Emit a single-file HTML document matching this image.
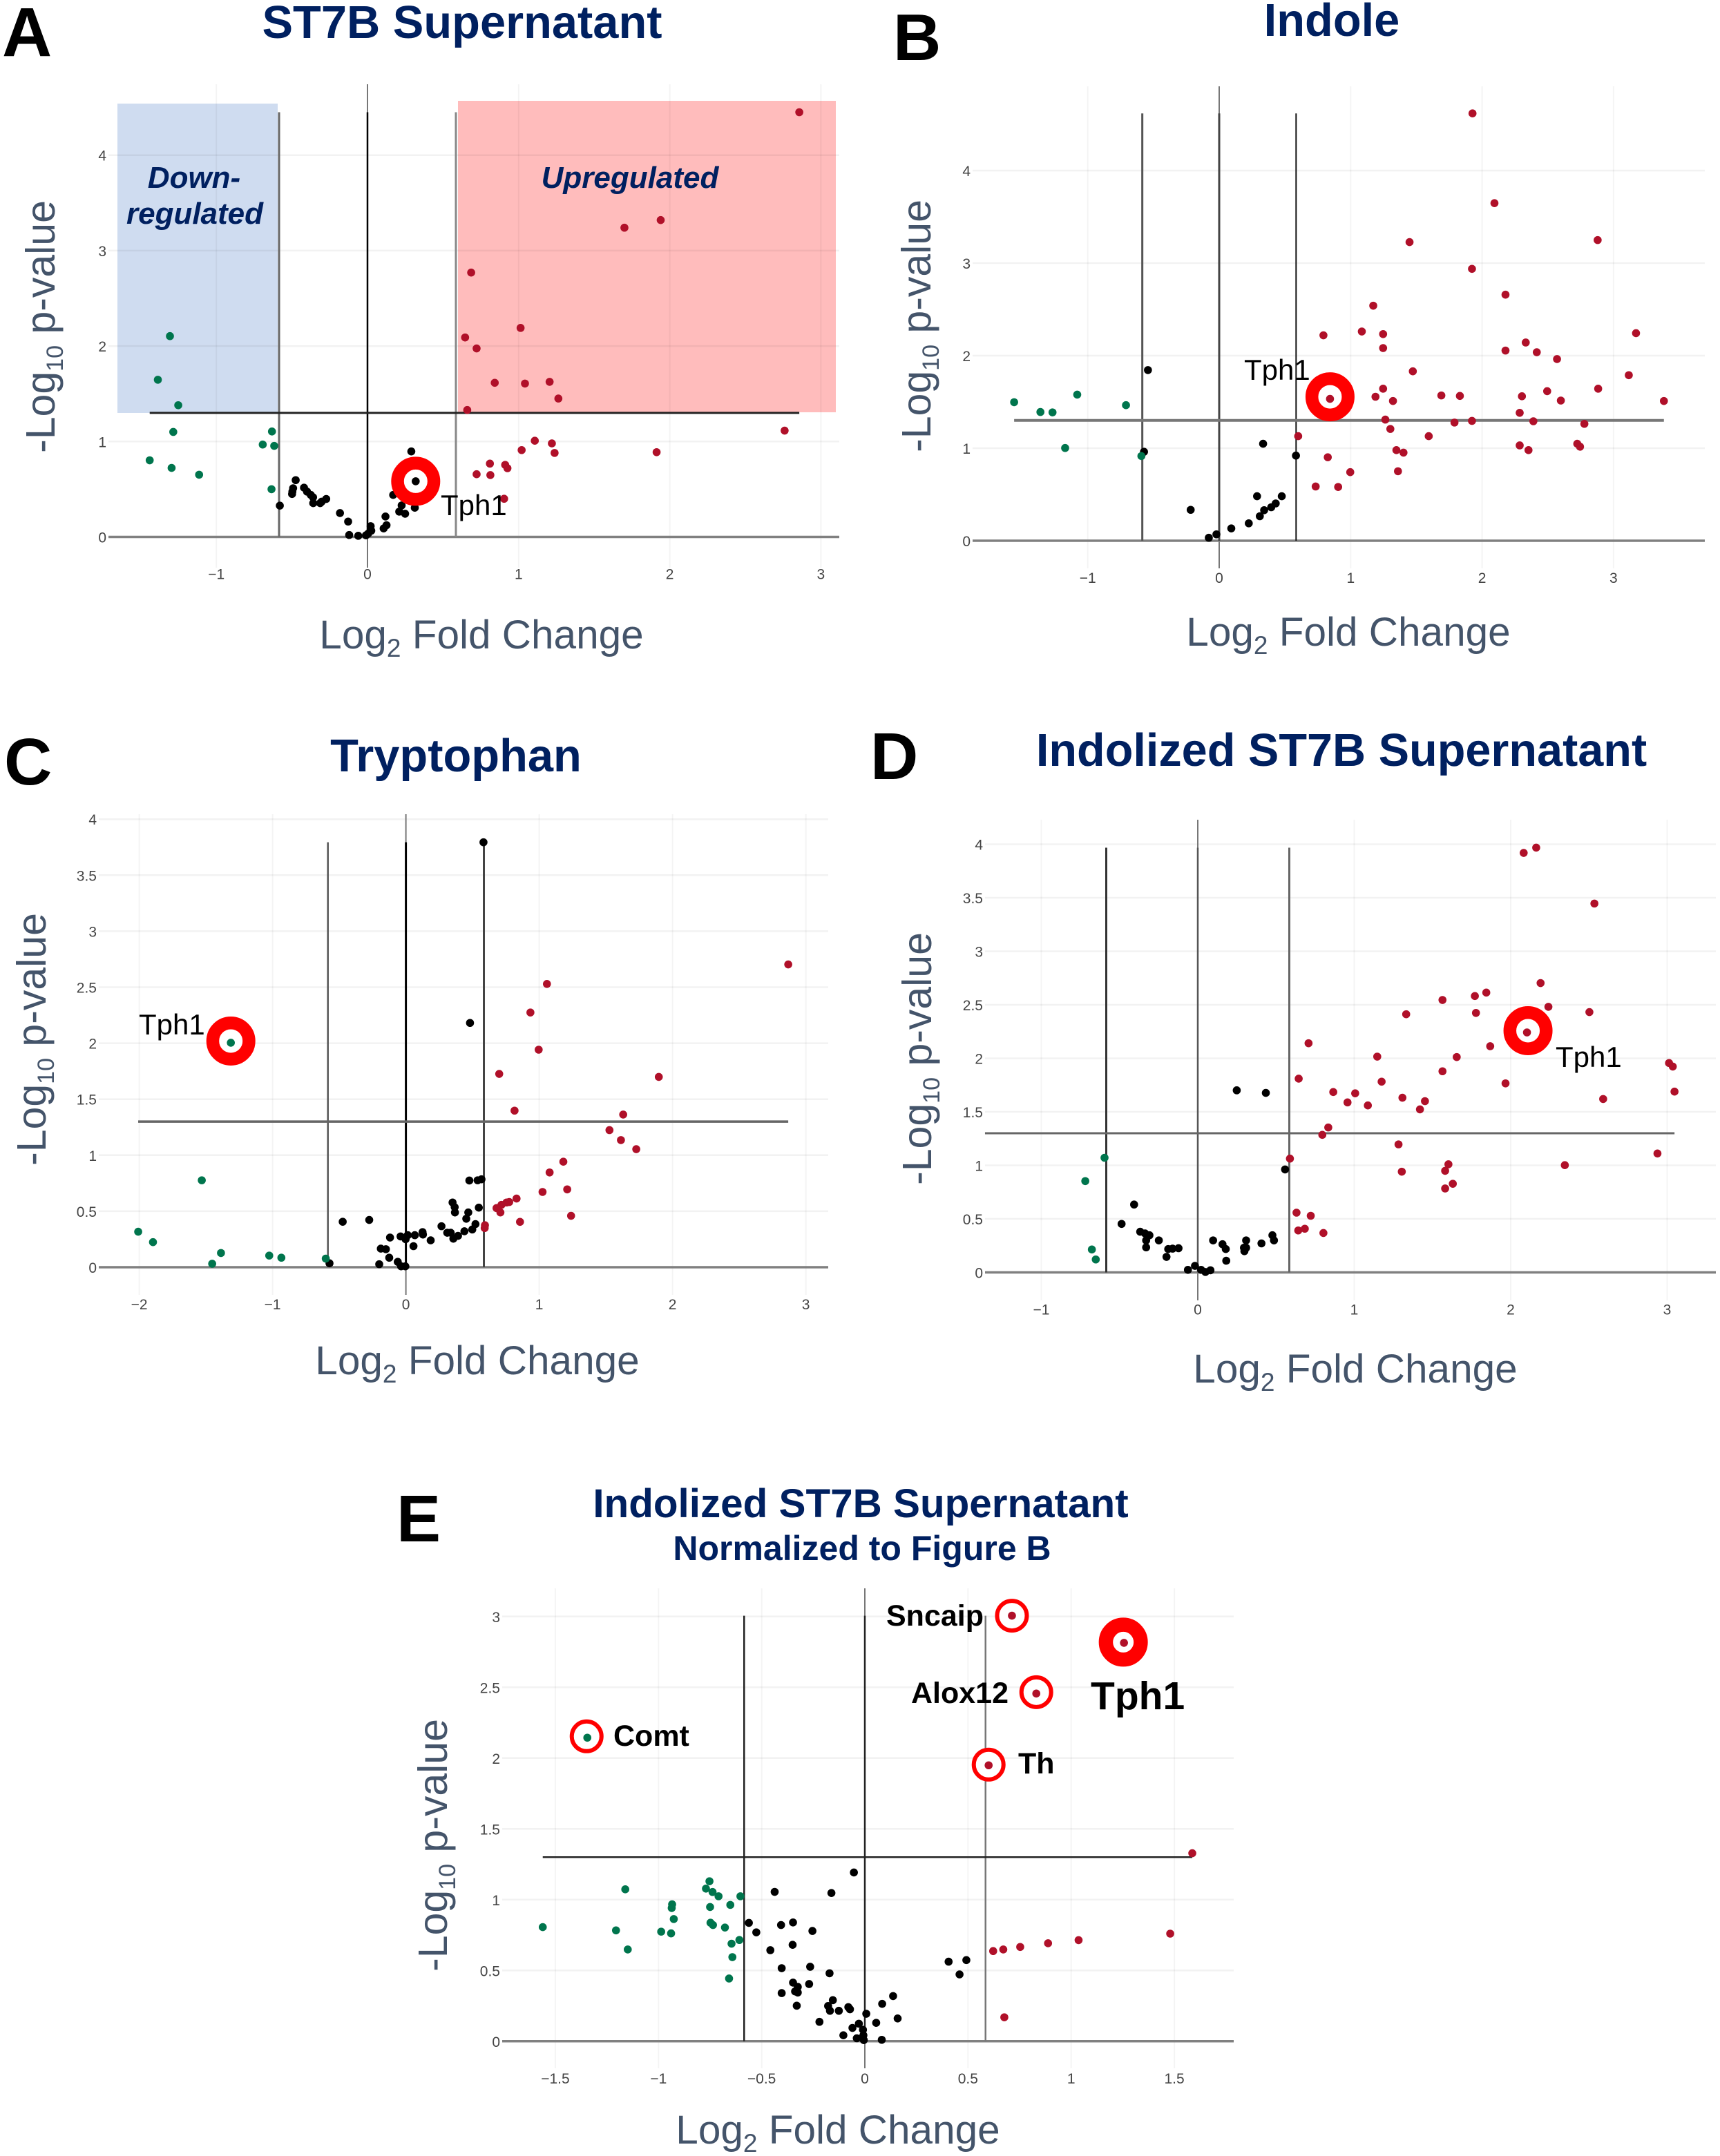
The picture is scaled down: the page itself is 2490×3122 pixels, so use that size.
<!DOCTYPE html>
<html lang="en">
<head>
<meta charset="utf-8">
<title>Volcano plots</title>
<style>
html,body{margin:0;padding:0;background:#fff;width:2490px;height:3122px;overflow:hidden}
svg{display:block}
text{font-family:"Liberation Sans",Arial,sans-serif}
.ttl{font-weight:700;fill:#002060;text-anchor:middle}
.let{font-weight:700;font-size:96px;fill:#000}
.xt{font-size:58.5px;fill:#44546a;text-anchor:middle}
.yt{font-size:59px;fill:#44546a;text-anchor:middle}
.tph{font-size:42px;fill:#000}
.gene{font-weight:700;font-size:43px;fill:#000}
.reg{font-weight:700;font-style:italic;font-size:44px;fill:#002060;text-anchor:middle}
</style>
</head>
<body>
<svg id="fig" xmlns="http://www.w3.org/2000/svg" width="2490" height="3122" viewBox="0 0 2490 3122">
<rect width="2490" height="3122" fill="#fff"/>
<rect x="170" y="150" width="232" height="448" fill="#cfdcf0"/>
<rect x="663" y="146" width="547" height="451" fill="#ffbcbc"/>
<g id="plots"></g>

<text class="let" x="3" y="81" style="font-size:100px">A</text>
<text class="let" x="1293" y="87">B</text>
<text class="let" x="6" y="1136">C</text>
<text class="let" x="1260" y="1128">D</text>
<text class="let" x="574" y="2232">E</text>

<text class="ttl" x="669" y="55" font-size="66.8">ST7B Supernatant</text>
<text class="ttl" x="1928" y="52" font-size="66.8">Indole</text>
<text class="ttl" x="660" y="1117" font-size="66.8">Tryptophan</text>
<text class="ttl" x="1942" y="1109" font-size="66.6">Indolized ST7B Supernatant</text>
<text class="ttl" x="1246" y="2197" font-size="58.4">Indolized ST7B Supernatant</text>
<text class="ttl" x="1248" y="2259" font-size="50">Normalized to Figure B</text>

<text class="reg" x="281" y="272">Down-</text>
<text class="reg" x="282" y="324">regulated</text>
<text class="reg" x="912" y="272">Upregulated</text>

<text class="xt" x="697" y="939">Log<tspan dy="12" font-size="37">2</tspan><tspan dy="-12"> Fold Change</tspan></text>
<text class="xt" x="1952" y="935">Log<tspan dy="12" font-size="37">2</tspan><tspan dy="-12"> Fold Change</tspan></text>
<text class="xt" x="691" y="1990">Log<tspan dy="12" font-size="37">2</tspan><tspan dy="-12"> Fold Change</tspan></text>
<text class="xt" x="1962" y="2002">Log<tspan dy="12" font-size="37">2</tspan><tspan dy="-12"> Fold Change</tspan></text>
<text class="xt" x="1213" y="3104">Log<tspan dy="12" font-size="37">2</tspan><tspan dy="-12"> Fold Change</tspan></text>

<text class="yt" transform="translate(79,473) rotate(-90)">-Log<tspan dy="12" font-size="34">10</tspan><tspan dy="-12"> p-value</tspan></text>
<text class="yt" transform="translate(1347,472) rotate(-90)">-Log<tspan dy="12" font-size="34">10</tspan><tspan dy="-12"> p-value</tspan></text>
<text class="yt" transform="translate(66,1505) rotate(-90)">-Log<tspan dy="12" font-size="34">10</tspan><tspan dy="-12"> p-value</tspan></text>
<text class="yt" transform="translate(1348,1533) rotate(-90)">-Log<tspan dy="12" font-size="34">10</tspan><tspan dy="-12"> p-value</tspan></text>
<text class="yt" transform="translate(647,2672) rotate(-90)">-Log<tspan dy="12" font-size="34">10</tspan><tspan dy="-12"> p-value</tspan></text>

<g id="annotations"></g>

<text class="tph" x="638" y="746">Tph1</text>
<text class="tph" x="1801" y="550">Tph1</text>
<text class="tph" x="201" y="1498">Tph1</text>
<text class="tph" x="2252" y="1545">Tph1</text>
<text class="gene" x="1283" y="2354">Sncaip</text>
<text class="gene" x="1319" y="2466">Alox12</text>
<text class="gene" x="888" y="2528">Comt</text>
<text class="gene" x="1474" y="2568">Th</text>
<text x="1579" y="2475" font-size="57" font-weight="700" fill="#000">Tph1</text>
</svg>

<script>
// ---------- shared thresholds ----------
var foldThreshold = 0.585;
var pThreshold = 1.3;

// ---------- tick arrays ----------
var xTicksAB = [-1, 0, 1, 2, 3];
var xLabelsAB = ['\u22121', '0', '1', '2', '3'];
var yTicksAB = [0, 1, 2, 3, 4];
var yLabelsAB = ['0', '1', '2', '3', '4'];
var xTicksC = [-2, -1, 0, 1, 2, 3];
var xLabelsC = ['\u22122', '\u22121', '0', '1', '2', '3'];
var yTicksCD = [0, 0.5, 1, 1.5, 2, 2.5, 3, 3.5, 4];
var yLabelsCD = ['0', '0.5', '1', '1.5', '2', '2.5', '3', '3.5', '4'];
var xTicksE = [-1.5, -1, -0.5, 0, 0.5, 1, 1.5];
var xLabelsE = ['\u22121.5', '\u22121', '\u22120.5', '0', '0.5', '1', '1.5'];
var yTicksE = [0, 0.5, 1, 1.5, 2, 2.5, 3];
var yLabelsE = ['0', '0.5', '1', '1.5', '2', '2.5', '3'];

// ---------- panel A ----------
var aUpFold = [2.857,1.70,1.94,0.686,1.013,0.646,0.722,0.842,1.042,1.205,1.263,0.66,2.76,1.107,1.22,1.02,1.238,1.913,0.81,0.911,0.926,0.722,0.813,0.904];
var aUpP = [4.45,3.24,3.32,2.77,2.19,2.09,1.975,1.615,1.607,1.625,1.45,1.33,1.114,1.008,0.98,0.91,0.88,0.888,0.768,0.755,0.72,0.657,0.648,0.40];
var aDownFold = [-1.307,-1.387,-1.252,-1.285,-0.632,-0.693,-0.617,-1.441,-1.296,-1.114,-0.635];
var aDownP = [2.104,1.647,1.38,1.10,1.105,0.968,0.954,0.803,0.723,0.652,0.50];
var aNsFold = [-0.58,-0.475,-0.492,-0.497,-0.499,-0.42,-0.40,-0.375,-0.36,-0.359,-0.313,-0.303,-0.273,-0.182,-0.128,-0.121,-0.061,-0.01,0.004,0.021,0.025,0.107,0.126,0.119,0.17,0.226,0.21,0.249,0.313,0.29];
var aNsP = [0.328,0.595,0.51,0.475,0.45,0.516,0.475,0.44,0.415,0.354,0.354,0.37,0.398,0.25,0.161,0.02,0.012,0.017,0.034,0.113,0.065,0.089,0.123,0.214,0.44,0.33,0.265,0.243,0.306,0.896];
var aGeneFold = [0.319];
var aGeneP = [0.583];

// ---------- panel B ----------
var bUpFold = [1.927,2.094,1.448,2.879,1.923,2.178,1.172,1.085,0.793,1.247,3.171,1.247,2.332,2.178,2.416,2.57,1.473,3.116,1.247,2.883,2.495,1.189,1.322,1.69,1.831,2.303,2.599,3.383,2.286,1.264,1.79,1.923,2.39,2.778,1.302,1.594,0.601,2.286,2.353,2.724,2.745,1.348,1.402,0.826,1.36,0.997,0.734,0.905];
var bUpP = [4.618,3.648,3.227,3.249,2.938,2.659,2.54,2.261,2.22,2.233,2.243,2.082,2.142,2.055,2.037,1.963,1.831,1.789,1.643,1.643,1.616,1.556,1.51,1.57,1.565,1.561,1.515,1.51,1.382,1.309,1.277,1.295,1.291,1.263,1.208,1.13,1.13,1.03,0.979,1.048,1.016,0.979,0.952,0.902,0.751,0.741,0.586,0.581];
var bDownFold = [-1.56,-1.36,-1.268,-1.08,-0.709,-1.172,-0.592];
var bDownP = [1.497,1.391,1.387,1.579,1.465,1.002,0.915];
var bNsFold = [-0.542,-0.572,0.334,0.584,-0.217,0.288,0.476,0.43,0.396,0.342,0.309,0.225,0.092,-0.021,-0.079];
var bNsP = [1.844,0.961,1.048,0.92,0.334,0.481,0.481,0.403,0.362,0.33,0.265,0.188,0.133,0.069,0.032];
var bGeneFold = [0.843];
var bGeneP = [1.533];

// ---------- panel C ----------
var cUpFold = [2.868,1.058,0.934,0.996,0.70,1.897,0.815,1.63,1.527,1.613,1.728,1.181,1.078,1.21,1.025,1.239,0.856,0.83,0.775,0.755,0.717,0.68,0.709,0.593,0.591];
var cUpP = [2.703,2.529,2.274,1.942,1.726,1.699,1.398,1.363,1.224,1.135,1.054,0.942,0.846,0.695,0.672,0.459,0.405,0.613,0.582,0.578,0.557,0.528,0.489,0.375,0.35];
var cDownFold = [-2.008,-1.897,-1.531,-1.387,-1.453,-1.025,-0.934,-0.601];
var cDownP = [0.317,0.224,0.776,0.127,0.031,0.104,0.085,0.077];
var cNsFold = [0.567,0.538,0.476,0.35,0.366,0.368,0.547,0.468,0.453,0.522,0.498,0.439,0.391,0.356,0.336,0.31,0.267,0.186,0.125,0.128,0.067,0.057,0.014,-0.002,-0.04,-0.119,-0.188,-0.15,-0.125,-0.2,-0.061,-0.036,-0.004,-0.275,-0.474,-0.573,0.582,0.481];
var cNsP = [0.785,0.776,0.774,0.578,0.536,0.489,0.532,0.489,0.433,0.385,0.337,0.321,0.28,0.255,0.308,0.308,0.366,0.24,0.313,0.292,0.286,0.188,0.286,0.25,0.275,0.265,0.166,0.161,0.085,0.027,0.048,0.008,0.008,0.422,0.406,0.035,3.794,2.181];
var cGeneFold = [-1.313];
var cGeneP = [2.004];

// ---------- panel D ----------
var dUpFold = [2.163,2.083,2.535,2.191,1.844,1.771,1.564,2.241,1.778,2.503,1.332,0.708,1.869,1.147,1.655,3.012,3.036,1.564,0.645,1.175,1.967,0.866,1.006,3.047,0.957,1.087,1.308,1.452,1.42,2.591,0.834,0.796,1.283,2.938,0.589,1.602,2.346,1.304,1.581,1.63,1.581,0.631,0.722,0.642,0.684,0.803];
var dUpP = [3.968,3.919,3.446,2.703,2.614,2.582,2.545,2.481,2.424,2.432,2.412,2.141,2.113,2.016,2.012,1.956,1.923,1.879,1.81,1.782,1.766,1.685,1.673,1.689,1.588,1.56,1.632,1.6,1.523,1.62,1.354,1.285,1.196,1.111,1.063,1.01,1.002,0.941,0.949,0.828,0.784,0.558,0.529,0.392,0.408,0.368];
var dDownFold = [-0.596,-0.719,-0.677,-0.652];
var dDownP = [1.071,0.853,0.214,0.121];
var dNsFold = [0.249,0.435,0.558,-0.407,-0.487,-0.368,-0.337,-0.309,-0.33,-0.33,-0.249,-0.123,-0.161,-0.189,-0.2,-0.063,-0.018,0.021,0.049,0.081,0.098,0.158,0.179,0.182,0.309,0.295,0.309,0.298,0.407,0.477,0.487];
var dNsP = [1.701,1.677,0.962,0.634,0.453,0.38,0.364,0.347,0.299,0.234,0.299,0.226,0.222,0.218,0.145,0.024,0.061,0.024,0.004,0.02,0.299,0.263,0.218,0.109,0.299,0.23,0.23,0.198,0.271,0.347,0.299];
var dGeneFold = [2.104];
var dGeneP = [2.242];

// ---------- panel E ----------
var eUpFold = [0.622,0.671,0.753,0.676,0.888,1.036,1.48,1.587];
var eUpP = [0.637,0.648,0.666,0.169,0.692,0.714,0.76,1.328];
var eDownFold = [-1.561,-1.206,-1.161,-1.149,-0.987,-0.939,-0.934,-0.936,-0.926,-0.753,-0.77,-0.738,-0.709,-0.603,-0.75,-0.652,-0.748,-0.736,-0.678,-0.608,-0.646,-0.642,-0.658];
var eDownP = [0.806,0.783,1.073,0.648,0.774,0.762,0.967,0.941,0.863,1.13,1.078,1.054,1.024,1.024,0.948,0.963,0.837,0.821,0.803,0.715,0.689,0.594,0.443];
var eNsFold = [-0.053,-0.437,-0.162,-0.562,-0.526,-0.406,-0.348,-0.254,-0.35,-0.458,-0.403,-0.265,-0.171,-0.348,-0.325,-0.338,-0.325,-0.27,-0.403,-0.33,-0.155,-0.178,-0.169,-0.126,-0.08,-0.072,-0.22,0.007,0.084,0.137,0.159,0.055,-0.029,-0.06,-0.009,-0.007,-0.104,-0.039,-0.005,0.082,0.406,0.492,0.459];
var eNsP = [1.192,1.055,1.047,0.836,0.769,0.821,0.839,0.779,0.681,0.643,0.516,0.526,0.48,0.414,0.384,0.352,0.344,0.404,0.34,0.251,0.29,0.249,0.215,0.215,0.241,0.226,0.137,0.194,0.264,0.319,0.161,0.13,0.124,0.094,0.081,0.042,0.042,0.021,0.008,0.01,0.562,0.573,0.472];
var eGeneNames = ['sncaip', 'alox12', 'th', 'tph1', 'comt'];
var eGeneFold = [0.713, 0.831, 0.6, 1.256, -1.345];
var eGeneP = [3.006, 2.456, 1.949, 2.814, 2.144];

var NS = 'http://www.w3.org/2000/svg';
var plots = document.getElementById('plots');
var annos = document.getElementById('annotations');
var UP = '#b01029', DOWN = '#00754d', NSCOL = '#000000';
var DOT_R = 5.8;

function mk(parent, tag, attrs) {
  var el = document.createElementNS(NS, tag);
  for (var k in attrs) el.setAttribute(k, attrs[k]);
  parent.appendChild(el);
  return el;
}

function drawSeries(group, sx, sy, xs, ys, color, name) {
  for (var i = 0; i < xs.length; i++) {
    var c = mk(group, 'circle', {cx: sx(xs[i]), cy: sy(ys[i]), r: DOT_R, fill: color});
    
    
  }
}

function drawLine(group, x1, y1, x2, y2, color, w, name) {
  var l = mk(group, 'line', {x1: x1, y1: y1, x2: x2, y2: y2, stroke: color, 'stroke-width': w});
  
  
}

function drawPanel(p) {
  var g = mk(plots, 'g', {});
  
  
  var sx = function (v) { return p.x0 + v * p.xu; };
  var sy = function (v) { return p.y0 - v * p.yu; };
  p.sx = sx; p.sy = sy;
  var i, t;
  for (i = 0; i < p.xTicks.length; i++) {
    drawLine(g, sx(p.xTicks[i]), p.top, sx(p.xTicks[i]), p.bottom, 'rgba(0,0,0,0.045)', 2, 'x-gridline');
    t = mk(g, 'text', {x: sx(p.xTicks[i]), y: p.y0 + 61, 'text-anchor': 'middle', 'font-size': 21, fill: '#444'});
    
    
    t.textContent = p.xLabels[i];
  }
  for (i = 0; i < p.yTicks.length; i++) {
    drawLine(g, p.left, sy(p.yTicks[i]), p.right, sy(p.yTicks[i]), 'rgba(0,0,0,0.05)', 2.5, 'y-gridline');
    t = mk(g, 'text', {x: p.left - 3, y: sy(p.yTicks[i]) + 8, 'text-anchor': 'end', 'font-size': 21, fill: '#444'});
    
    
    t.textContent = p.yLabels[i];
  }
  drawLine(g, sx(0), p.top, sx(0), p.bottom, '#777', 2, 'x-zero-line');
  drawLine(g, p.left, sy(0), p.right, sy(0), '#808080', 3.5, 'y-zero-line');
  drawLine(g, sx(-foldThreshold), sy(0), sx(-foldThreshold), sy(p.yMax), p.c[0], p.w[0], 'down-threshold-line');
  drawLine(g, sx(0), sy(0), sx(0), sy(p.yMax), p.c[1], p.w[1], 'center-line');
  drawLine(g, sx(foldThreshold), sy(0), sx(foldThreshold), sy(p.yMax), p.c[2], p.w[2], 'up-threshold-line');
  drawLine(g, sx(p.xMin), sy(pThreshold), sx(p.xMax), sy(pThreshold), p.c[3], p.w[3], 'p-threshold-line');
  drawSeries(g, sx, sy, p.nsX, p.nsY, NSCOL, 'not-significant-point');
  drawSeries(g, sx, sy, p.downX, p.downY, DOWN, 'downregulated-point');
  drawSeries(g, sx, sy, p.upX, p.upY, UP, 'upregulated-point');
}

function drawTarget(p, fold, pv, color, rOuter, rInner, dx, dy, name) {
  var cx = p.sx(fold), cy = p.sy(pv);
  var mid = (rOuter + rInner) / 2;
  var ring = mk(annos, 'circle', {cx: cx + dx, cy: cy + dy, r: mid, fill: '#fff', stroke: '#ff0000', 'stroke-width': rOuter - rInner});
  
  
  var dot = mk(annos, 'circle', {cx: cx, cy: cy, r: DOT_R, fill: color});
  
  
}

var panelA = {id: 'a', x0: 532, xu: 218.8, y0: 777.5, yu: 138.2, left: 157, right: 1215, top: 122, bottom: 822, yMax: 4.45, xMin: -1.441, xMax: 2.857,
  xTicks: xTicksAB, xLabels: xLabelsAB, yTicks: yTicksAB, yLabels: yLabelsAB,
  c: ['#666', '#000', '#888', '#222'], w: [3, 2.5, 3, 3],
  upX: aUpFold, upY: aUpP, downX: aDownFold, downY: aDownP, nsX: aNsFold, nsY: aNsP};
var panelB = {id: 'b', x0: 1765, xu: 190.3, y0: 783, yu: 134, left: 1408, right: 2468, top: 125, bottom: 823, yMax: 4.618, xMin: -1.56, xMax: 3.383,
  xTicks: xTicksAB, xLabels: xLabelsAB, yTicks: yTicksAB, yLabels: yLabelsAB,
  c: ['#555', '#444', '#111', '#777'], w: [3, 3, 2, 4],
  upX: bUpFold, upY: bUpP, downX: bDownFold, downY: bDownP, nsX: bNsFold, nsY: bNsP};
var panelC = {id: 'c', x0: 587.6, xu: 193, y0: 1835, yu: 162.2, left: 143, right: 1199, top: 1179, bottom: 1875, yMax: 3.794, xMin: -2.008, xMax: 2.868,
  xTicks: xTicksC, xLabels: xLabelsC, yTicks: yTicksCD, yLabels: yLabelsCD,
  c: ['#555', '#000', '#444', '#666'], w: [2.5, 3, 3, 3.5],
  upX: cUpFold, upY: cUpP, downX: cDownFold, downY: cDownP, nsX: cNsFold, nsY: cNsP};
var panelD = {id: 'd', x0: 1734, xu: 226.5, y0: 1842.5, yu: 155, left: 1426, right: 2484, top: 1187, bottom: 1883, yMax: 3.968, xMin: -1.36, xMax: 3.047,
  xTicks: xTicksAB, xLabels: xLabelsAB, yTicks: yTicksCD, yLabels: yLabelsCD,
  c: ['#333', '#555', '#666', '#666'], w: [3, 2.5, 3, 3],
  upX: dUpFold, upY: dUpP, downX: dDownFold, downY: dDownP, nsX: dNsFold, nsY: dNsP};
var panelE = {id: 'e', x0: 1252, xu: 298.7, y0: 2955.8, yu: 205, left: 727, right: 1786, top: 2300, bottom: 2995, yMax: 3.006, xMin: -1.561, xMax: 1.587,
  xTicks: xTicksE, xLabels: xLabelsE, yTicks: yTicksE, yLabels: yLabelsE,
  c: ['#222', '#222', '#777', '#222'], w: [2.5, 2.5, 2.5, 2.5],
  upX: eUpFold, upY: eUpP, downX: eDownFold, downY: eDownP, nsX: eNsFold, nsY: eNsP};

drawPanel(panelA);
drawPanel(panelB);
drawPanel(panelC);
drawPanel(panelD);
drawPanel(panelE);

drawTarget(panelA, aGeneFold[0], aGeneP[0], NSCOL, 35.5, 17, 0, 0, 'tph1-a');
drawTarget(panelB, bGeneFold[0], bGeneP[0], UP, 35.5, 17, 0, -3, 'tph1-b');
drawTarget(panelC, cGeneFold[0], cGeneP[0], DOWN, 35.5, 17, 0, -2.5, 'tph1-c');
drawTarget(panelD, dGeneFold[0], dGeneP[0], UP, 35.5, 17, 1.5, -2.5, 'tph1-d');
drawTarget(panelE, eGeneFold[0], eGeneP[0], UP, 24.5, 18.5, 0, 0, 'sncaip');
drawTarget(panelE, eGeneFold[1], eGeneP[1], UP, 24.5, 18.5, 0, -2, 'alox12');
drawTarget(panelE, eGeneFold[2], eGeneP[2], UP, 24.5, 18.5, 0, -1, 'th');
drawTarget(panelE, eGeneFold[3], eGeneP[3], UP, 35.5, 15, -1, -1, 'tph1-e');
drawTarget(panelE, eGeneFold[4], eGeneP[4], DOWN, 24.5, 18.5, -1, -2, 'comt');
</script>
</body>
</html>
